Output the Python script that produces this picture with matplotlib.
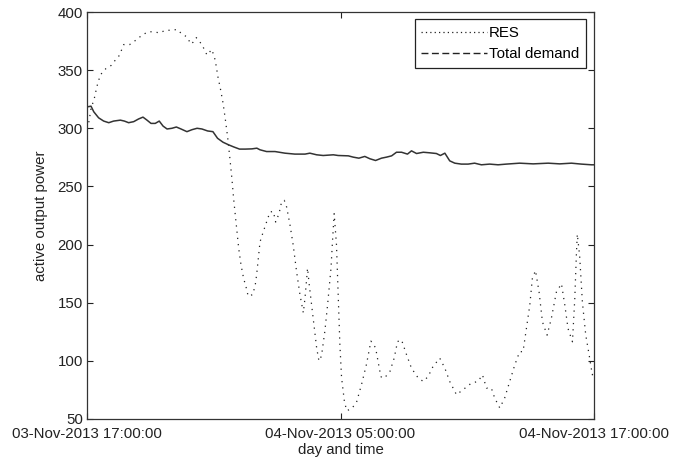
import matplotlib
matplotlib.use("Agg")
import matplotlib.pyplot as plt
from matplotlib.lines import Line2D

plt.rcParams['font.family'] = ['Liberation Sans', 'DejaVu Sans']

# hours since 03-Nov-2013 17:00:00
res_hours = [0.0, 0.08, 0.19, 0.35, 0.47, 0.63, 0.9, 1.14, 1.34, 1.53, 1.74, 2.02, 2.33, 2.6,
             2.89, 3.15, 3.44, 3.71, 4.02, 4.26, 4.5, 4.73, 4.92, 5.02, 5.17, 5.44, 5.68,
             5.91, 6.07, 6.2, 6.31, 6.44, 6.55, 6.66, 6.75, 6.86, 6.94, 7.07, 7.18, 7.29,
             7.41, 7.54, 7.63, 7.85, 7.97, 8.03, 8.11, 8.19, 8.34, 8.5, 8.66, 8.82, 8.93,
             9.09, 9.21, 9.34, 9.45, 9.61, 9.76, 9.92, 10.08, 10.24, 10.32, 10.44, 10.52,
             10.63, 10.76, 10.87, 10.98, 11.1, 11.26, 11.39, 11.55, 11.62, 11.7, 11.81,
             11.89, 11.97, 12.05, 12.18, 12.29, 12.52, 12.76, 13.0, 13.23, 13.44, 13.55,
             13.66, 13.91, 14.07, 14.34, 14.54, 14.7, 14.89, 15.13, 15.36, 15.68, 15.92,
             16.15, 16.38, 16.7, 16.94, 17.17, 17.49, 17.8, 18.2, 18.51, 18.72, 18.91,
             19.14, 19.3, 19.54, 19.77, 20.01, 20.25, 20.48, 20.64, 20.8, 20.96, 21.08,
             21.23, 21.4, 21.56, 21.78, 21.98, 22.22, 22.46, 22.62, 22.77, 22.98, 23.09,
             23.17, 23.21, 23.32, 23.45, 23.61, 23.77, 23.92, 24.0]
res_values = [300, 304.6, 316.8, 326.0, 336, 345.9, 351.4, 354, 358.6, 362.6, 372, 372, 376, 380,
              383, 383, 382, 384.3, 384.3, 385, 381, 378.6, 372.4, 374, 378, 372, 363,
              367.8, 358.6, 344, 334.5, 321.7, 307.5, 292, 276.6, 256.6, 239.6, 216.8, 196.9,
              182.6, 171.2, 162.7, 155.6, 157, 166, 174, 188, 202.3, 210.8, 219.4, 228, 228.5,
              219.4, 226.6, 236.6, 238, 232.3, 216.8, 199.7, 176.9, 157, 141.3, 154.1, 179.7,
              165.5, 148.4, 128.4, 111.3, 99.9, 104.2, 125.6, 148.4, 179.7, 202.5, 226.6,
              199.7, 157, 114.2, 85.7, 65.8, 57.2, 58.7, 64.4, 80, 97.1, 117, 114.2, 111.3,
              86.4, 85, 90.9, 102.3, 116.6, 118, 105.1, 93.7, 85.2, 82.3, 86.6, 95.2, 102.3,
              93.7, 82.3, 70.9, 75.2, 80.9, 82.3, 88, 76.6, 76.6, 68, 59.5, 68, 82.3, 96.5,
              107.9, 107.9, 127.8, 147.8, 170.6, 177.7, 159.2, 133.5, 122.1, 136.4, 159.2,
              166.3, 147.8, 127.8, 116.4, 153.4, 193.3, 208.9, 190.4, 150.6, 122.1, 105.1,
              88, 92]

demand_hours = [0.0, 0.19, 0.32, 0.55, 0.79, 1.03, 1.26, 1.58, 1.77, 1.97, 2.21, 2.44, 2.65,
                2.84, 3.03, 3.23, 3.42, 3.6, 3.79, 4.02, 4.23, 4.45, 4.73, 4.97, 5.21, 5.44,
                5.71, 5.96, 6.18, 6.44, 6.7, 6.94, 7.22, 7.49, 7.81, 8.04, 8.19, 8.5, 8.9,
                9.37, 9.84, 10.32, 10.55, 10.87, 11.18, 11.66, 11.89, 12.37, 12.6, 12.87,
                13.15, 13.39, 13.66, 13.94, 14.18, 14.42, 14.65, 14.89, 15.17, 15.36, 15.6,
                15.92, 16.23, 16.54, 16.73, 16.94, 17.17, 17.41, 17.72, 18.04, 18.35, 18.67,
                19.06, 19.46, 19.85, 20.48, 21.12, 21.83, 22.38, 22.93, 23.4, 23.88, 24.0]
demand_values = [318.4, 319, 314.2, 309, 306.2, 304.8, 306.2, 307, 306.2, 304.8, 305.7, 308,
                 309.6, 307, 304.2, 304.2, 306.2, 301.9, 299.4, 300, 301.1, 299.4, 297.1,
                 298.8, 300, 299.4, 297.7, 297.1, 291.4, 288, 285.8, 284, 282.1, 282.1, 282.3,
                 282.9, 281.5, 280, 280, 278.6, 277.8, 277.8, 278.6, 277.2, 276.6, 277.2,
                 276.6, 276.3, 275.2, 274.3, 275.8, 273.8, 272.3, 274.3, 275.2, 276.3, 279.4,
                 279.4, 277.8, 280.6, 278.3, 279.4, 278.9, 278.3, 276.6, 278.6, 272, 270,
                 269.2, 269.2, 270, 268.6, 269.2, 268.6, 269.2, 270, 269.4, 270, 269.4, 270,
                 269.2, 268.6, 268.6]

xtick_hours = [0, 12, 24]
xtick_labels = ['03-Nov-2013 17:00:00', '04-Nov-2013 05:00:00', '04-Nov-2013 17:00:00']
yticks = [50, 100, 150, 200, 250, 300, 350, 400]

FS = 10.8
fig = plt.figure(figsize=(6.89, 4.63), dpi=100)
ax = fig.add_axes([87/689, 1 - 419/463, (594 - 87)/689, (419 - 12)/463])

ax.plot(res_hours, res_values, color='#222222', lw=0.9, linestyle=(0, (1, 4)))
ax.plot(demand_hours, demand_values, color='#333333', lw=1.1, linestyle='-')

ax.set_xlim(0, 24)
ax.set_ylim(50, 400)
ax.set_xticks(xtick_hours)
ax.set_xticklabels(xtick_labels)
ax.set_yticks(yticks)
ax.tick_params(direction='in', length=4, width=0.8, top=True, right=True,
               labelsize=FS, colors='#222222')
ax.tick_params(axis='x', pad=6)
ax.tick_params(axis='y', pad=3)
for s in ax.spines.values():
    s.set_color('#333333')
    s.set_linewidth(0.9)
ax.set_xlabel('day and time', fontsize=FS, color='#222222', labelpad=1)
ax.set_ylabel('active output power', fontsize=FS, color='#222222', labelpad=7)

handles = [Line2D([], [], color='#222222', lw=0.9, linestyle=(0, (1, 2.5))),
           Line2D([], [], color='#222222', lw=1.0, linestyle=(0, (5, 2.5)))]
leg = ax.legend(handles, ['RES', 'Total demand'], loc='upper right',
                bbox_to_anchor=(0.984, 0.982), fancybox=False, shadow=False,
                edgecolor='#222222', framealpha=1, fontsize=FS, handlelength=4.4,
                handletextpad=0.1, borderpad=0.45, labelspacing=0.45, borderaxespad=0)
leg.get_frame().set_linewidth(0.9)

fig.savefig('out.png', dpi=100)
